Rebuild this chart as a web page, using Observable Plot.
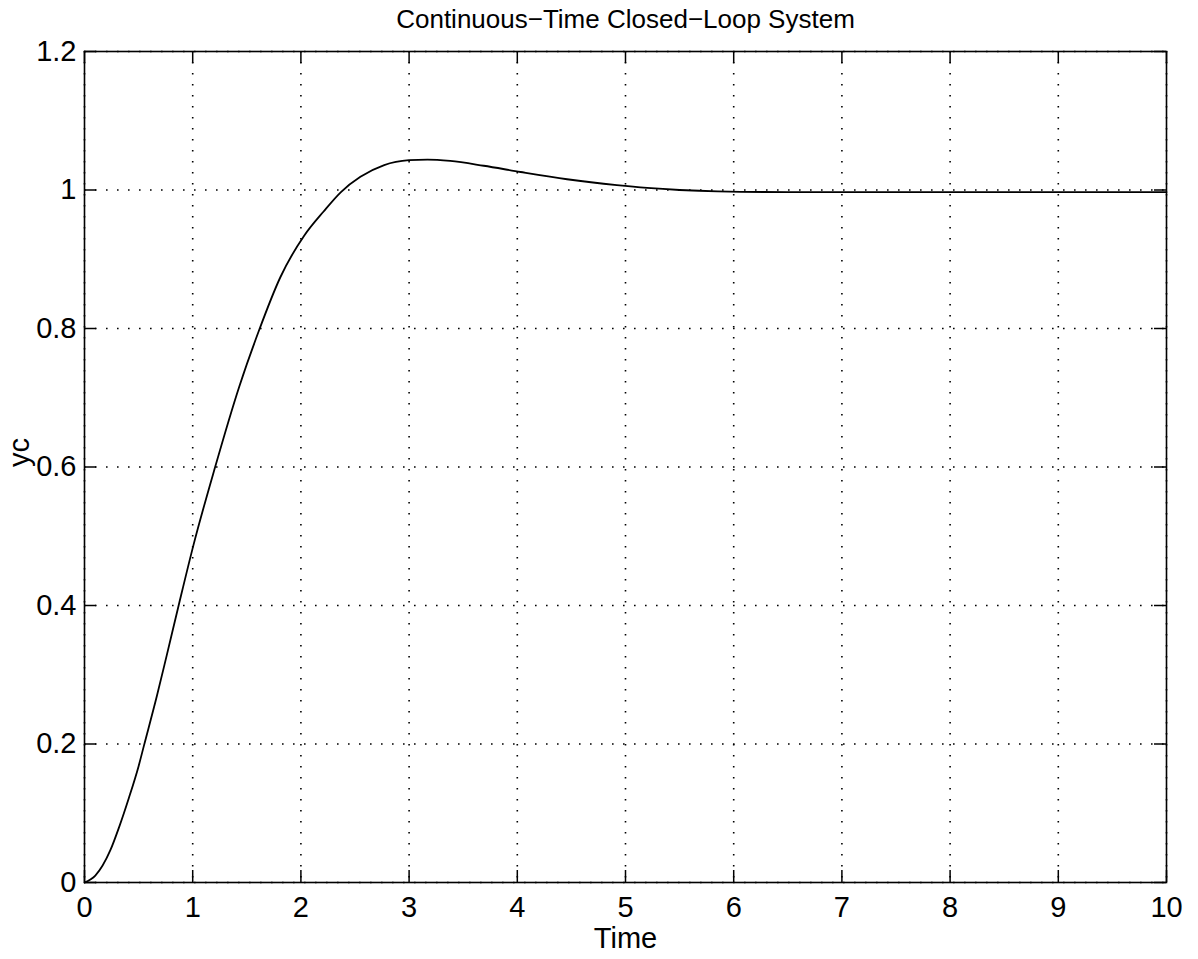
<!DOCTYPE html>
<html><head><meta charset="utf-8">
<script src="https://cdn.jsdelivr.net/npm/d3@7"></script>
<script src="https://cdn.jsdelivr.net/npm/@observablehq/plot@0.6"></script>
<style>html,body{margin:0;padding:0;background:#fff}</style>
</head><body><div id="chart"></div>
<script>
const time = [0, 0.1, 0.24, 0.32, 0.41, 0.5, 0.55, 0.67, 0.76, 0.87, 1.01, 1.2, 1.43, 1.61, 1.81, 2.03, 2.21, 2.37, 2.55, 2.77, 3.0, 3.17, 3.38, 3.69, 4.03, 4.46, 4.92, 5.2, 5.5, 5.85, 6.5, 7, 8, 9, 10];
const yc = [0, 0.010, 0.047, 0.080, 0.122, 0.168, 0.198, 0.27, 0.328, 0.400, 0.489, 0.596, 0.716, 0.796, 0.874, 0.934, 0.969, 0.997, 1.019, 1.036, 1.043, 1.044, 1.042, 1.035, 1.026, 1.0155, 1.007, 1.003, 1.0, 0.998, 0.997, 0.997, 0.997, 0.997, 0.997];
const xTicks = [0, 1, 2, 3, 4, 5, 6, 7, 8, 9, 10];
const yTicks = [0, 0.2, 0.4, 0.6, 0.8, 1, 1.2];
const titleText = "Continuous\u2212Time Closed\u2212Loop System";
const xLabel = "Time";
const yLabel = "yc";

const data = time.map((t, i) => ({t, y: yc[i]}));
const W = 1198, H = 959, mL = 84, mR = 32, mT = 51, mB = 77;
const fh = H - mT - mB, fw = W - mL - mR, tk = 12;
const font = "'Liberation Sans', Arial, Helvetica, sans-serif";

const chart = Plot.plot({
  width: W, height: H,
  marginLeft: mL, marginRight: mR, marginTop: mT, marginBottom: mB,
  style: {fontFamily: font, fontSize: "28px", background: "#fff", color: "#000"},
  x: {domain: [0, 10], ticks: xTicks},
  y: {domain: [0, 1.2], ticks: yTicks},
  marks: [
    Plot.ruleX(xTicks, {x: d => d, stroke: "#000", strokeWidth: 1.6, strokeDasharray: "1.6,9.4"}),
    Plot.ruleY(yTicks, {y: d => d, stroke: "#000", strokeWidth: 1.6, strokeDasharray: "1.6,9.4"}),
    Plot.ruleX(xTicks, {x: d => d, stroke: "#000", strokeWidth: 1.5, insetTop: fh - tk}),
    Plot.ruleX(xTicks, {x: d => d, stroke: "#000", strokeWidth: 1.5, insetBottom: fh - tk}),
    Plot.ruleY(yTicks, {y: d => d, stroke: "#000", strokeWidth: 1.5, insetRight: fw - tk}),
    Plot.ruleY(yTicks, {y: d => d, stroke: "#000", strokeWidth: 1.5, insetLeft: fw - tk}),
    Plot.line(data, {x: "t", y: "y", stroke: "#000", strokeWidth: 1.8, curve: "monotone-x"}),
    Plot.frame({stroke: "#000", strokeWidth: 1.6}),
    Plot.axisX({ticks: xTicks, tickSize: 0, tickPadding: 14, label: null, fontSize: 29, tickFormat: d => String(d)}),
    Plot.axisY({ticks: yTicks, tickSize: 0, tickPadding: 8, label: null, fontSize: 29, tickFormat: d => String(d)}),
    Plot.text([titleText], {text: d => d, frameAnchor: "top", lineAnchor: "middle", dy: -32, fontSize: 26}),
    Plot.text([xLabel], {text: d => d, frameAnchor: "bottom", lineAnchor: "middle", dy: 56, fontSize: 29}),
    Plot.text([yLabel], {text: d => d, frameAnchor: "left", lineAnchor: "middle", rotate: -90, dx: -65, fontSize: 29})
  ]
});
document.getElementById("chart").appendChild(chart);
</script>
</body></html>
